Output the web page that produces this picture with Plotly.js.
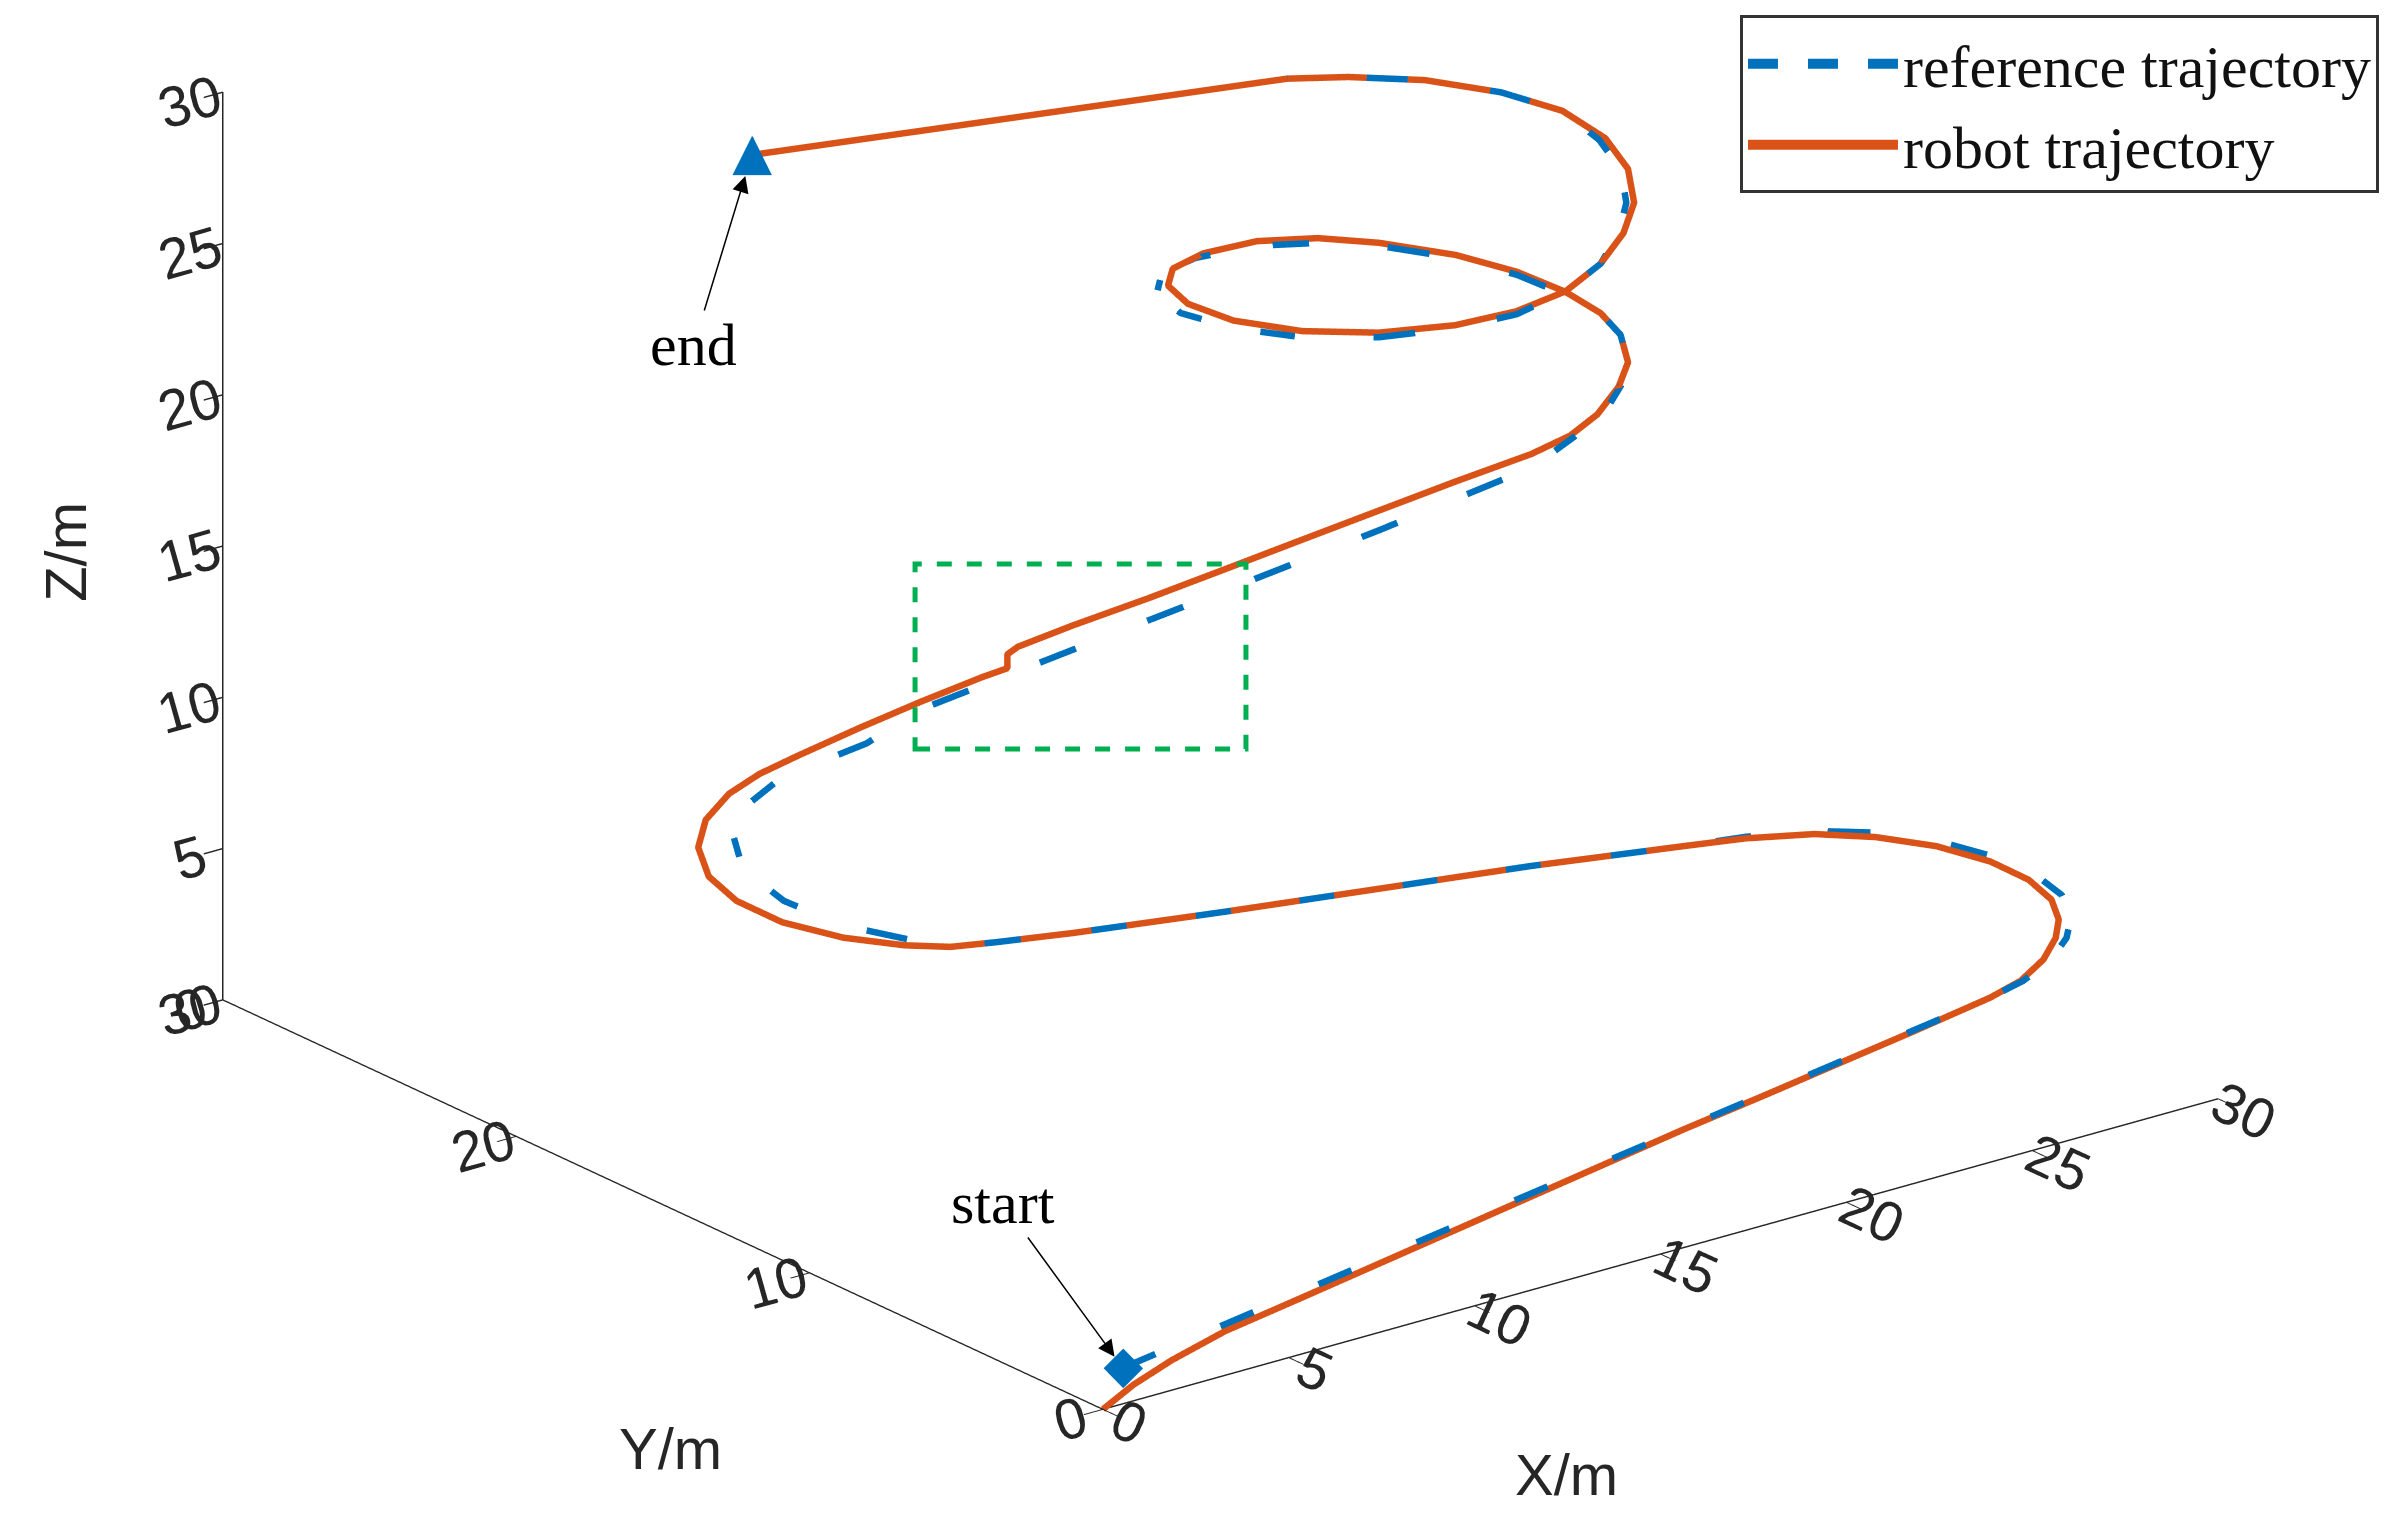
<!DOCTYPE html>
<html>
<head>
<meta charset="utf-8">
<script src="https://cdn.plot.ly/plotly-3.0.1.min.js"></script>
<style>
  html, body { margin: 0; padding: 0; background: #fff; }
  #plot { width: 2403px; height: 1531px; }
</style>
</head>
<body>
<div id="plot"></div>
<script>
// robot trajectory (solid)
var robotX = [0, 0.82, 1.85, 3.29, 5.35, 7.41, 9.47, 11.52, 13.58, 15.64, 17.70, 19.75, 21.81, 23.87,
  24.87, 25.95, 26.87, 27.52, 28.05, 28.32, 28.27, 27.85, 27.09, 26.1, 24.57,
  23.05, 19.2, 15.25, 11.31, 7.41, 5.52, 4.42, 3.54, 2.57, 1.88, 1.72, 1.97, 2.68, 3.64, 4.81, 5.87, 7.02,
  8.58, 10.11, 11.56, 12.14, 12.14, 12.53, 13.95, 15.79, 17.7, 19.55, 21.39, 23.24, 25.02,
  26.12, 27.13, 28.27, 29.09, 29.63, 29.75, 29.6, 29.18, 28.43, 27.25, 26.06, 24.6, 22.93, 21.53, 20.51,
  19.86, 19.69, 20.14, 21.04, 22.27, 23.47, 24.69, 25.95, 27.12, 28.07, 28.86, 29.26, 29.2, 28.51, 27.34,
  25.84, 24.53, 11.01];
var robotY = [0, 0, 0, 0, 0, 0, 0, 0, 0, 0, 0, 0, 0, 0,
  0.23, 0.82, 1.57, 2.29, 3.21, 4.33, 5.57, 6.88, 7.99, 8.83, 9.23,
  9.38, 9.73, 9.94, 10.15, 10.43, 10.64, 10.8, 11.25, 12.1, 13.31, 14.67, 15.93, 17.19, 18.15, 18.84, 19.15, 19.29,
  19.19, 19.04, 18.8, 18.64, 18.64, 18.77, 18.7, 18.43, 18.23, 17.97, 17.7, 17.43, 17.1,
  17.17, 17.52, 18.24, 18.96, 19.9, 20.73, 21.74, 22.86, 24.0, 25.12, 25.7, 25.92, 25.63, 24.9, 23.77,
  22.27, 20.5, 18.72, 17.26, 16.21, 15.65, 15.52, 15.92, 16.62, 17.46, 18.67, 19.95, 21.34, 22.55, 23.67,
  24.37, 24.8, 25.92];
var robotZ = [0, 0.53, 0.99, 1.46, 1.86, 2.27, 2.68, 3.09, 3.5, 3.91, 4.27, 4.65, 5.03, 5.44,
  5.55, 5.62, 5.68, 5.74, 5.8, 5.86, 5.92, 5.98, 6.04, 6.1, 6.3,
  6.5, 7.0, 7.5, 8.0, 8.5, 8.75, 8.9, 9.05, 9.25, 9.45, 9.6, 9.75, 9.9, 10.05, 10.2, 10.35, 10.5,
  10.92, 11.33, 11.75, 11.93, 12.39, 12.45, 12.7, 13.1, 13.5, 13.95, 14.4, 14.85, 15.3,
  15.5, 15.7, 15.9, 16.1, 16.4, 16.7, 17.0, 17.3, 17.6, 17.9, 18.2, 18.5, 18.8, 19.1, 19.4,
  19.7, 20.0, 20.3, 20.6, 20.9, 21.2, 21.5, 21.8, 22.1, 22.4, 22.7, 23.0, 23.3, 23.6, 23.9,
  24.2, 24.4, 26.0];

// reference trajectory (dashed)
var refX = [0.535, 13.58, 23.87,
  24.92, 26.08, 27.05, 27.84, 28.39, 28.61, 28.51, 28.07, 27.25, 26.21, 24.63,
  23.05, 19.2, 15.25, 11.31, 7.41, 5.52, 4.42,
  3.88, 3.01, 2.68, 2.93, 3.77, 4.81, 5.91, 7.0, 8.29,
  9.83, 13.42, 17.01, 20.6, 24.31,
  26.19, 27.54, 28.74, 29.09, 29.63, 29.75,
  29.49, 29.07, 28.32, 27.14, 25.89, 24.43, 22.63, 21.19, 20.11, 19.4, 19.42, 19.92, 20.87, 22.16, 23.37,
  24.69, 25.95, 27.04, 27.94, 28.73, 29.1, 29.2, 28.51, 27.34, 25.84, 24.53];
var refY = [0, 0, 0,
  0.2, 0.72, 1.43, 2.27, 3.29, 4.45, 5.73, 7.05, 8.2, 8.97, 9.3,
  9.38, 9.73, 9.94, 10.15, 10.43, 10.64, 10.8,
  11.32, 12.67, 14.27, 15.99, 17.38, 18.27, 18.68, 18.75, 18.56,
  18.69, 18.03, 17.36, 16.71, 16.19,
  17.0, 17.67, 18.56, 18.96, 19.9, 20.73,
  21.6, 22.72, 23.86, 24.98, 25.48, 25.71, 25.52, 24.84, 23.63, 21.94, 20.15, 18.43, 17.05, 16.07, 15.51,
  15.52, 15.92, 16.68, 17.56, 18.76, 19.96, 21.34, 22.55, 23.67, 24.37, 24.8];
var refZ = [1.185, 3.57, 5.44,
  5.55, 5.62, 5.68, 5.74, 5.8, 5.86, 5.92, 5.98, 6.04, 6.1, 6.3,
  6.5, 7.0, 7.5, 8.0, 8.5, 8.75, 8.9,
  9.05, 9.25, 9.45, 9.65, 9.85, 10.05, 10.25, 10.45, 10.8,
  11.33, 12.38, 13.42, 14.46, 15.5,
  15.6, 15.75, 15.95, 16.1, 16.4, 16.7,
  17.0, 17.3, 17.6, 17.9, 18.2, 18.5, 18.8, 19.1, 19.4, 19.7, 20.0, 20.3, 20.6, 20.9, 21.2,
  21.5, 21.8, 22.1, 22.4, 22.7, 23.0, 23.3, 23.6, 23.9, 24.2, 24.4];

var startPt = [0.535, 0, 1.185];
var endPt = [11.01, 25.92, 26.0];

var xTicks = [0, 5, 10, 15, 20, 25, 30];
var yTicks = [0, 10, 20, 30];
var zTicks = [0, 5, 10, 15, 20, 25, 30];

var blue = '#0072BD';
var orange = '#D95319';

var robot = {
  type: 'scatter3d', mode: 'lines', name: 'robot trajectory',
  x: robotX, y: robotY, z: robotZ,
  line: {color: orange, width: 13}
};
var reference = {
  type: 'scatter3d', mode: 'lines', name: 'reference trajectory',
  x: refX, y: refY, z: refZ,
  line: {color: blue, width: 13, dash: 'dash'}
};
var startMark = {
  type: 'scatter3d', mode: 'markers', showlegend: false,
  x: [startPt[0]], y: [startPt[1]], z: [startPt[2]],
  marker: {symbol: 'diamond', size: 13, color: blue}
};
var endMark = {
  type: 'scatter3d', mode: 'text', showlegend: false,
  x: [endPt[0]], y: [endPt[1]], z: [endPt[2]],
  text: ['\u25B2'], textposition: 'middle center',
  textfont: {size: 52, color: blue, family: 'DejaVu Sans'}
};

var axisFont = 'Liberation Sans, Arial';
var tickFont = {family: axisFont, size: 26, color: '#262626'};
var labelFont = {family: axisFont, size: 58, color: '#262626'};
var serif = {family: 'Liberation Serif, Times New Roman', size: 60, color: '#000'};

function axis(ticks) {
  return {
    title: {text: ''},
    range: [0, 30], autorange: false,
    tickvals: ticks, tickfont: tickFont,
    showgrid: false, zeroline: false, showbackground: false,
    showline: true, linecolor: '#262626', linewidth: 3,
    ticks: 'outside', ticklen: 24, tickcolor: '#262626', tickwidth: 3,
    showspikes: false
  };
}

// view direction (MATLAB-like azimuth/elevation) and framing
var dir = [-0.571, -0.738, 0.360];
var dist = 2;
var zoomK = 1.842;
var ctr = [-0.0685, -0.0481, -0.2072];

var layout = {
  width: 2403, height: 1531,
  paper_bgcolor: '#fff',
  margin: {l: 0, r: 0, t: 0, b: 0},
  hovermode: false,
  showlegend: true,
  legend: {
    x: 0.99, y: 0.99, xanchor: 'right', yanchor: 'top',
    bordercolor: '#333', borderwidth: 3, bgcolor: '#fff',
    itemwidth: 150, traceorder: 'reversed',
    font: {family: 'Liberation Serif, Times New Roman', size: 60, color: '#111'}
  },
  scene: {
    domain: {x: [0, 1], y: [0, 1]},
    aspectmode: 'manual',
    aspectratio: {x: 1 * zoomK, y: 1.02 * zoomK, z: 0.69 * zoomK},
    xaxis: axis(xTicks),
    yaxis: axis(yTicks),
    zaxis: axis(zTicks),
    camera: {
      projection: {type: 'orthographic'},
      up: {x: 0, y: 0, z: 1},
      center: {x: ctr[0], y: ctr[1], z: ctr[2]},
      eye: {x: ctr[0] + dir[0] * dist, y: ctr[1] + dir[1] * dist, z: ctr[2] + dir[2] * dist}
    },
    annotations: [
      {x: endPt[0], y: endPt[1], z: endPt[2], text: 'end', showarrow: true,
       ax: -58, ay: 190, arrowhead: 2, arrowsize: 2.2, arrowwidth: 1.5, standoff: 22,
       arrowcolor: '#000', font: serif},
      {x: startPt[0], y: startPt[1], z: startPt[2], text: 'start', showarrow: true,
       ax: -120, ay: -165, arrowhead: 2, arrowsize: 2.2, arrowwidth: 1.5, standoff: 14,
       arrowcolor: '#000', font: serif},
      // axis labels
      {x: 15, y: 0, z: 0, text: 'X/m', showarrow: false, xshift: -94, yshift: -220, font: labelFont},
      {x: 0, y: 15, z: 0, text: 'Y/m', showarrow: false, xshift: 8, yshift: -244, font: labelFont},
      {x: 0, y: 30, z: 15, text: 'Z/m', showarrow: false, textangle: -90, xshift: -158, yshift: -6, font: labelFont}
    ]
  },
  shapes: [
    {type: 'rect', xref: 'paper', yref: 'paper',
     x0: 0.3808, x1: 0.5185, y0: 0.5108, y1: 0.6316,
     line: {color: '#00B050', width: 5, dash: 'dash'}}
  ]
};

Plotly.newPlot('plot', [robot, reference, startMark, endMark], layout, {displayModeBar: false});
</script>
</body>
</html>
